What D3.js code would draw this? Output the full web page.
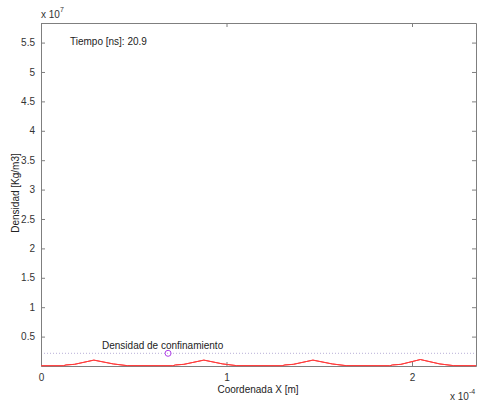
<!DOCTYPE html>
<html><head><meta charset="utf-8">
<script src="https://cdn.jsdelivr.net/npm/d3@7"></script>
<style>body{margin:0;background:#fff}svg{display:block}text{font-family:"Liberation Sans","DejaVu Sans",sans-serif}</style>
</head><body><svg id="c" width="477" height="403"></svg>
<script>
// x in units of 1e-4 m, density in units of 1e7 kg/m3
const xValues = [0, 0.12, 0.135, 0.18, 0.285, 0.39, 0.465, 0.71, 0.725, 0.77, 0.878, 0.98, 1.055, 1.30, 1.315, 1.36, 1.466, 1.57, 1.645, 1.88, 1.895, 1.94, 2.045, 2.15, 2.225, 2.345];
const densValues = [0.004, 0.004, 0.018, 0.028, 0.10, 0.035, 0.006, 0.004, 0.018, 0.028, 0.10, 0.035, 0.006, 0.004, 0.018, 0.028, 0.10, 0.035, 0.006, 0.004, 0.018, 0.028, 0.11, 0.035, 0.006, 0.004];
const confDensity = 0.216;
const markerX = 0.685;
const xTicks = [0, 1, 2];
const yTicks = [0.5, 1, 1.5, 2, 2.5, 3, 3.5, 4, 4.5, 5, 5.5];
const timeLabel = "Tiempo [ns]: 20.9";
const confLabel = "Densidad de confinamiento";

const L = 41, R = 476, T = 23, B = 366;
const x = d3.scaleLinear().domain([0, 2.345]).range([L, R]);
const y = d3.scaleLinear().domain([0, 5.833]).range([B, T]);
const svg = d3.select("#c");
const axCol = "#7f7f7f", txtCol = "#333";

// dotted confinement line
svg.append("line").attr("x1", L).attr("x2", R).attr("y1", y(confDensity)).attr("y2", y(confDensity))
  .attr("stroke", "#b8b0d8").attr("stroke-width", 1).attr("stroke-dasharray", "1,2");

// density curve
const line = d3.line().x((d, i) => x(xValues[i])).y(d => y(d));
svg.append("path").datum(densValues).attr("d", line).attr("fill", "none").attr("stroke", "#ff3b3b").attr("stroke-width", 1);

// marker
svg.append("circle").attr("cx", x(markerX)).attr("cy", y(confDensity)).attr("r", 3)
  .attr("fill", "none").attr("stroke", "#b040e8").attr("stroke-width", 1);

// axes
const gB = svg.append("g").attr("transform", `translate(0,${B})`)
  .call(d3.axisBottom(x).tickValues(xTicks).tickFormat(d3.format("d")).tickSizeInner(-4).tickSizeOuter(0).tickPadding(8));
const gT = svg.append("g").attr("transform", `translate(0,${T})`)
  .call(d3.axisTop(x).tickValues(xTicks).tickFormat("").tickSizeInner(-4).tickSizeOuter(0));
const gL = svg.append("g").attr("transform", `translate(${L},0)`)
  .call(d3.axisLeft(y).tickValues(yTicks).tickFormat(d3.format("")).tickSizeInner(-4).tickSizeOuter(0).tickPadding(6));
const gR = svg.append("g").attr("transform", `translate(${R},0)`)
  .call(d3.axisRight(y).tickValues(yTicks).tickFormat("").tickSizeInner(-4).tickSizeOuter(0));
[gB, gT, gL, gR].forEach(g => {
  g.selectAll(".domain").attr("stroke", axCol);
  g.selectAll(".tick line").attr("stroke", axCol);
  g.selectAll("text").attr("fill", txtCol).attr("font-size", 10).attr("font-family", "Liberation Sans, DejaVu Sans, sans-serif");
});
// redraw curve on top of bottom axis
svg.append("path").datum(densValues).attr("d", line).attr("fill", "none").attr("stroke", "#ff3b3b").attr("stroke-width", 1);

// texts
svg.append("text").attr("x", 70).attr("y", 45).attr("font-size", 10).attr("fill", "#222").text(timeLabel);
svg.append("text").attr("x", 102).attr("y", 349).attr("font-size", 10).attr("fill", "#222").text(confLabel);
svg.append("text").attr("x", 258).attr("y", 393).attr("text-anchor", "middle").attr("font-size", 10).attr("fill", "#222").text("Coordenada X [m]");
svg.append("text").attr("transform", "translate(19,193) rotate(-90)").attr("text-anchor", "middle").attr("font-size", 10).attr("fill", "#222").text("Densidad [Kg/m3]");
const e7 = svg.append("text").attr("x", 41).attr("y", 18).attr("font-size", 10).attr("fill", txtCol);
e7.append("tspan").text("x 10");
e7.append("tspan").attr("dy", -6).attr("font-size", 7).text("7");
const e4 = svg.append("text").attr("x", 450).attr("y", 400).attr("font-size", 10).attr("fill", txtCol);
e4.append("tspan").text("x 10");
e4.append("tspan").attr("dy", -6).attr("font-size", 7).text("-4");
</script></body></html>
